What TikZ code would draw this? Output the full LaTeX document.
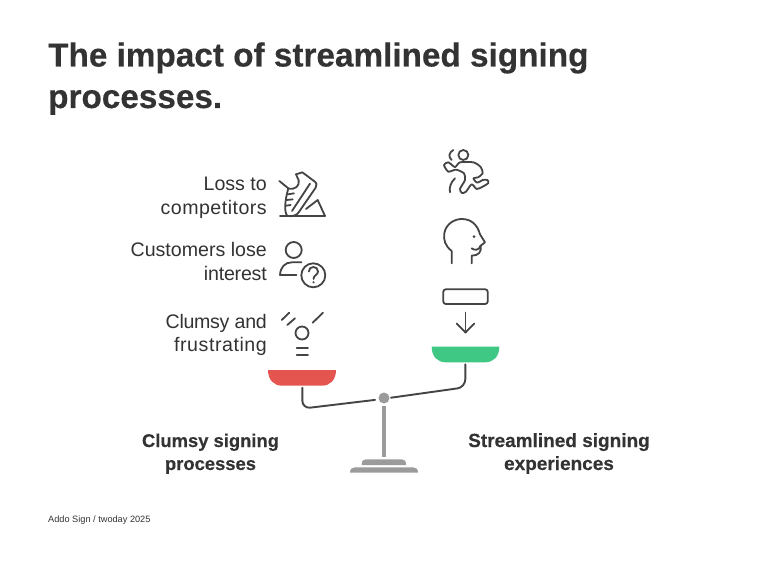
\documentclass[tikz,border=0pt]{standalone}
\usepackage{fontspec}
\setmainfont{Liberation Sans}[BoldFeatures={FakeBold=0.35}]
\definecolor{ink}{HTML}{333333}
\definecolor{iconink}{HTML}{444444}
\definecolor{steel}{HTML}{9B9B9B}
\definecolor{redpan}{HTML}{E5554F}
\definecolor{greenpan}{HTML}{3FC784}
\newcommand{\spaced}[1]{\addfontfeature{LetterSpace=#1}}
\tikzset{
  txt/.style={inner sep=0pt,text=ink,font=\fontsize{19.6}{23}\selectfont,anchor=base east},
  boldtxt/.style={inner sep=0pt,text=ink,font=\fontsize{19}{23}\selectfont\bfseries,anchor=base},
  title/.style={inner sep=0pt,text=ink,font=\fontsize{33.3}{42}\selectfont\bfseries,anchor=base west},
  icon/.style={draw=iconink,line width=1.8pt,line cap=round,line join=round},
  beam/.style={draw=iconink,line width=1.9pt,line cap=round},
  zoomed/.style={x=0.33333pt,y=-0.33333pt},
}
\begin{document}
\begin{tikzpicture}[x=1pt,y=-1pt]
\useasboundingbox (0,0) rectangle (768,561);
\fill[white] (0,0) rectangle (768,561);
% title
\node[title] (t1) at (48,66.5) {The impact of streamlined signing};
\node[title] (t2) at (48,108) {processes.};
% labels
\node[txt] (a1) at (267,191) {Loss to};
\node[txt] (a2) at (267,214.5) {\spaced{2.5}competitors};
\node[txt] (b1) at (267,256.5) {Customers lose};
\node[txt] (b2) at (267,280) {\spaced{-1}interest};
\node[txt] (c1) at (267,328) {\spaced{-1.5}Clumsy and};
\node[txt] (c2) at (267,351) {\spaced{2.8}frustrating};
\node[boldtxt] (l1) at (210.5,447) {\fontsize{18.4}{23}\selectfont Clumsy signing};
\node[boldtxt] (l2) at (210.5,470) {\fontsize{18.4}{23}\selectfont processes};
\node[boldtxt] (r1) at (559,447) {Streamlined signing};
\node[boldtxt] (r2) at (559,470) {experiences};
\node[inner sep=0pt,text=ink,font=\fontsize{9.2}{12}\selectfont,anchor=base west] (foot) at (48,522) {Addo Sign / twoday 2025};
% pans
\fill[redpan] (268,370) -- (336,370) .. controls (336,380) and (330,385.7) .. (322,385.7) -- (282,385.7) .. controls (274,385.7) and (268,380) .. (268,370) -- cycle;
\fill[greenpan] (431.7,346.7) -- (499.3,346.7) .. controls (499.3,356.7) and (493.3,362.3) .. (485.3,362.3) -- (445.7,362.3) .. controls (437.7,362.3) and (431.7,356.7) .. (431.7,346.7) -- cycle;
% stand
\node[circle,fill=steel,inner sep=0pt,minimum size=11pt] (pivot) at (384,398) {};
\coordinate (posttop) at (384,405.7);
\coordinate (postbot) at (384,456.7);
\draw[steel,line width=3.7pt] (posttop) -- (postbot);
\fill[steel] (361.7,465) .. controls (361.7,461) and (363,459.3) .. (366,459.3) -- (401.7,459.3) .. controls (404.7,459.3) and (406,461) .. (406,465) -- cycle;
\fill[steel] (350,472.7) .. controls (350,469) and (352,467.3) .. (355,467.3) -- (413,467.3) .. controls (416,467.3) and (418,469) .. (418,472.7) -- cycle;
% beam
\coordinate (redhang) at (302.3,387.7);
\coordinate (redelbow) at (302.3,408.6);
\coordinate (beamL) at (375,399.9);
\coordinate (beamR) at (391,397.7);
\coordinate (greenelbow) at (465.3,387.3);
\coordinate (greenhang) at (465.3,364.3);
\draw[beam,rounded corners=8pt] (redhang) -- (redelbow) -- (beamL);
\draw[beam,rounded corners=8pt] (beamR) -- (greenelbow) -- (greenhang);
% arrow icon
\draw[icon,rounded corners=2.5pt] (443.3,289.3) -- (487.7,289.3) -- (487.7,304) -- (443.3,304) -- cycle;
\coordinate (arrowtop) at (465.5,312.5);
\coordinate (arrowtip) at (465.5,332.5);
\draw[icon] (arrowtop) -- (arrowtip);
\draw[icon] (456.7,323.5) -- (arrowtip) -- (474.3,323.5);
% clumsy icon
\draw[icon] (302,333) circle (6.5);
\draw[icon] (281.7,320) -- (289.3,312.7);
\draw[icon] (287.3,325) -- (295,318.3);
\draw[icon] (312.7,322.7) -- (323,312.7);
\draw[icon] (296.7,347.7) -- (308,347.7);
\draw[icon] (296.7,355.3) -- (308,355.3);
% person icon
\draw[icon] (293.7,250) circle (8);
\draw[icon] (296.5,275) -- (280,275) .. controls (280.5,267) and (285,262.3) .. (292,262.3) -- (301.5,262.3);
\draw[icon] (313.3,275.3) circle (12);
\draw[icon] (308.8,271.5) .. controls (308.8,265.5) and (318,265.5) .. (318,271.5) .. controls (318,275) and (313.5,275) .. (313.5,279);
\fill[iconink] (313.5,282.3) circle (1.2);
% shoe icon
\begin{scope}[shift={(270,165)},zoomed]
\draw[icon] (30,153) -- (165,153);
\draw[icon] (108,132) -- (143,105) -- (165,153);
\draw[icon] (28,48) -- (55,70) .. controls (75,76) and (90,62) .. (86,46) -- (78,28) -- (97,22) -- (132,48) .. controls (140,54) and (142,60) .. (137,68) -- (86,142) .. controls (80,151) and (68,155) .. (52,153) .. controls (42,140) and (44,110) .. (55,70);
\draw[icon] (120,56) -- (66,138);
\draw[icon] (54,88) -- (72,85);
\draw[icon] (50,105) -- (68,103);
\draw[icon] (48,122) -- (62,120);
\end{scope}
% runner icon
\begin{scope}[shift={(440,145)},zoomed]
\draw[icon] (70,30) circle (15);
\draw[icon] (40,15) .. controls (27,22) and (24,36) .. (35,45);
\draw[icon] (45,100) .. controls (32,112) and (27,128) .. (30,142);
\draw[icon] plot[smooth cycle,tension=0.45] coordinates {(12,60) (25,52) (45,66) (60,52) (100,52) (122,66) (128,85) (114,97) (100,100) (112,113) (128,105) (142,105) (145,114) (128,125) (110,132) (95,118) (78,140) (66,144) (60,132) (75,105) (72,85) (48,74) (25,80)};
\end{scope}
% head icon
\begin{scope}[shift={(440,215)},zoomed]
\draw[icon] (35,145) -- (35,108) .. controls (15,92) and (10,75) .. (13,55) .. controls (18,25) and (45,12) .. (65,12) .. controls (95,12) and (112,30) .. (120,58) -- (135,82) -- (122,92) .. controls (125,112) and (115,122) .. (95,122) -- (95,145);
\draw[icon] (95,100) .. controls (103,106) and (116,108) .. (122,92);
\fill[iconink] (102,65) circle (4.5);
\end{scope}
\end{tikzpicture}
\end{document}
